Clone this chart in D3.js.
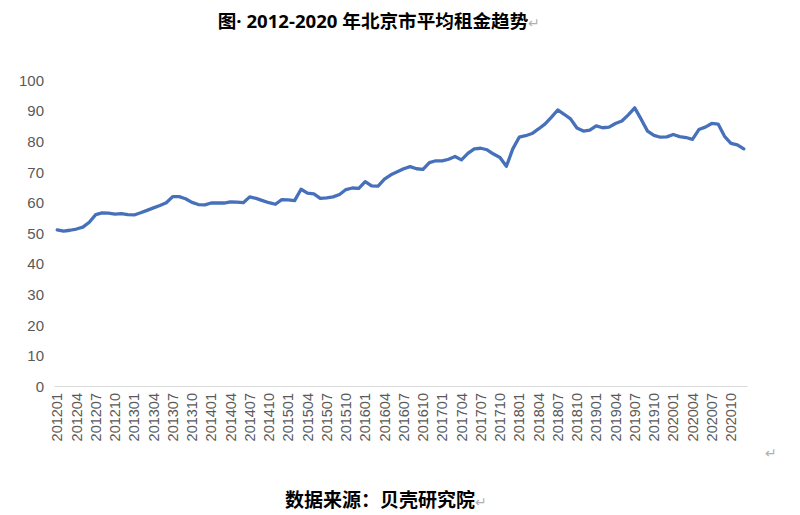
<!DOCTYPE html>
<html>
<head>
<meta charset="utf-8">
<script src="https://cdn.jsdelivr.net/npm/d3@7"></script>
<style>
  html, body { margin: 0; padding: 0; background: #fff; }
  svg { display: block; }
</style>
</head>
<body>
<svg id="chart" width="800" height="515"></svg>
<script>
// ---- Data ----
const years = [2012, 2013, 2014, 2015, 2016, 2017, 2018, 2019, 2020];
const months = ["01","02","03","04","05","06","07","08","09","10","11","12"];
const categories = years.flatMap(y => months.map(m => `${y}${m}`));
const rentValues = [
  51.0, 50.6, 50.9, 51.3, 51.9, 53.5, 56.0, 56.6, 56.5, 56.2, 56.3, 56.0,
  55.9, 56.6, 57.4, 58.2, 59.0, 59.9, 61.9, 61.9, 61.2, 60.0, 59.3, 59.2,
  59.8, 59.8, 59.8, 60.2, 60.1, 59.9, 61.8, 61.3, 60.6, 59.9, 59.4, 60.9,
  60.8, 60.6, 64.3, 63.0, 62.8, 61.3, 61.5, 61.8, 62.6, 64.2, 64.7, 64.6,
  66.8, 65.4, 65.3, 67.6, 69.0, 70.0, 71.0, 71.7, 71.0, 70.8, 73.0, 73.6,
  73.6, 74.1, 75.0, 73.9, 76.0, 77.5, 77.7, 77.2, 75.8, 74.7, 71.8, 77.5,
  81.3, 81.8, 82.5, 84.0, 85.6, 87.8, 90.2, 88.8, 87.3, 84.3, 83.3, 83.6,
  85.0, 84.4, 84.6, 85.8, 86.6, 88.6, 90.9, 87.2, 83.3, 81.9, 81.3, 81.4,
  82.2, 81.5, 81.2, 80.6, 83.8, 84.6, 85.8, 85.6, 81.6, 79.3, 78.8, 77.5
];
const tickLabels = categories.filter((c, i) => i % 3 === 0);
const yTicks = [0, 10, 20, 30, 40, 50, 60, 70, 80, 90, 100];
const titleParts = ["图", "· 2012-2020 ", "年北京市平均租金趋势"];
const sourceText = "数据来源：贝壳研究院";

// ---- Layout ----
const svg = d3.select("#chart");
const plotLeft = 54, plotRight = 747, plotTop = 80, plotBottom = 386;

const x = d3.scaleBand().domain(categories).range([plotLeft, plotRight]).padding(0);
const y = d3.scaleLinear().domain([0, 100]).range([plotBottom, plotTop]);
const cx = d => x(d) + x.bandwidth() / 2;

const gray = "#595959";
const latinFont = "'Liberation Sans', Arial, sans-serif";
const cjkFont = "'Noto Sans CJK SC', 'Noto Sans', sans-serif";

// Title
const title = svg.append("text")
  .attr("x", 379).attr("y", 28)
  .attr("text-anchor", "middle")
  .attr("font-family", cjkFont).attr("font-weight", "bold")
  .attr("font-size", 18.6).attr("fill", "#000");
title.append("tspan").text(titleParts[0]);
title.append("tspan").attr("font-family", "'Open Sans', 'Noto Sans', sans-serif").text(titleParts[1]);
title.append("tspan").text(titleParts[2]);
title.append("tspan").attr("fill", "#b0b0b0").attr("font-weight", "normal").attr("font-size", 14).text("↵");

// Y axis labels (no line)
const yAxis = d3.axisLeft(y).tickValues(yTicks).tickSize(0).tickPadding(0);
const gy = svg.append("g").attr("transform", `translate(44,0)`).call(yAxis);
gy.select(".domain").remove();
gy.selectAll("text")
  .attr("fill", gray).attr("font-family", latinFont).attr("font-size", 15)
  .attr("dy", "0.35em");

// X axis
const xAxis = d3.axisBottom(x).tickValues(tickLabels).tickSize(0).tickPadding(0);
const gx = svg.append("g").attr("transform", `translate(0,${plotBottom})`).call(xAxis);
gx.select(".domain").attr("stroke", "#d9d9d9").attr("stroke-width", 1);
gx.selectAll("text")
  .attr("fill", gray).attr("font-family", latinFont).attr("font-size", 14.5)
  .attr("transform", "rotate(-90)")
  .attr("text-anchor", "end")
  .attr("x", -7).attr("y", 0).attr("dy", "0.35em");

// Line
const line = d3.line()
  .x((d, i) => cx(categories[i]))
  .y(d => y(d));
svg.append("path")
  .datum(rentValues)
  .attr("d", line)
  .attr("fill", "none")
  .attr("stroke", "#4670BA")
  .attr("stroke-width", 3.3)
  .attr("stroke-linejoin", "round")
  .attr("stroke-linecap", "round");

// Stray paragraph mark
svg.append("text").attr("x", 765).attr("y", 458)
  .attr("font-family", latinFont).attr("font-size", 14).attr("fill", "#b0b0b0").text("↵");

// Source
const src = svg.append("text")
  .attr("x", 386).attr("y", 507)
  .attr("text-anchor", "middle")
  .attr("font-family", cjkFont).attr("font-weight", "bold")
  .attr("font-size", 19).attr("fill", "#000");
src.append("tspan").text(sourceText);
src.append("tspan").attr("fill", "#b0b0b0").attr("font-weight", "normal").attr("font-size", 14).text("↵");
</script>
</body>
</html>
